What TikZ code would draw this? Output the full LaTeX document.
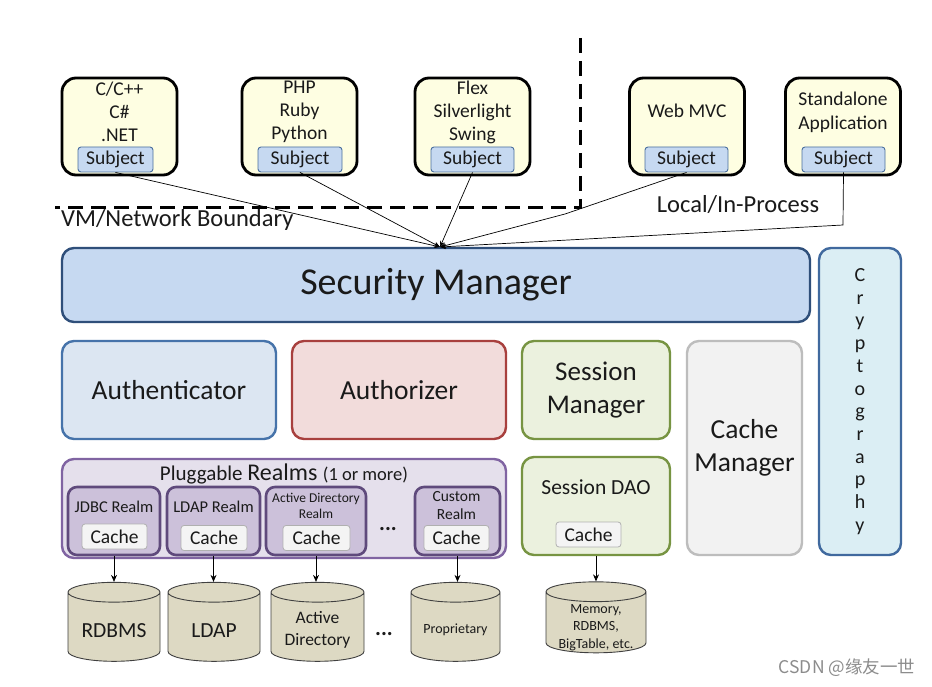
\documentclass[tikz,border=0pt]{standalone}
\usepackage{fontspec}
\setmainfont{Carlito}
\newfontfamily\cjkfont{Noto Sans CJK SC}
\usetikzlibrary{arrows.meta,shapes.geometric}
\definecolor{txt}{HTML}{1A1A1A}
\definecolor{clientfill}{HTML}{FEFEE2}
\definecolor{subjfill}{HTML}{C6D9F1}
\definecolor{subjdraw}{HTML}{4A6F9E}
\definecolor{smfill}{HTML}{C6D9F1}
\definecolor{smdraw}{HTML}{2F4F7A}
\definecolor{authfill}{HTML}{DCE6F2}
\definecolor{authdraw}{HTML}{4673AA}
\definecolor{azfill}{HTML}{F2DCDB}
\definecolor{azdraw}{HTML}{A8403E}
\definecolor{sesfill}{HTML}{EBF1DE}
\definecolor{sesdraw}{HTML}{779442}
\definecolor{cmfill}{HTML}{F2F2F2}
\definecolor{cmdraw}{HTML}{BDBDBD}
\definecolor{crfill}{HTML}{DBEEF4}
\definecolor{crdraw}{HTML}{40699E}
\definecolor{plfill}{HTML}{E5E0EC}
\definecolor{pldraw}{HTML}{8064A2}
\definecolor{rlfill}{HTML}{CCC1DA}
\definecolor{rldraw}{HTML}{5F4A7C}
\definecolor{cachefill}{HTML}{F4F4F4}
\definecolor{cachedraw}{HTML}{B0B0B0}
\definecolor{cylfill}{HTML}{DDD9C3}
\definecolor{cyldraw}{HTML}{404040}
\tikzset{
  box/.style={rounded corners=12pt, inner sep=0pt, align=center, text=txt},
  client/.style={box, draw=black, line width=2.8pt, fill=clientfill, rounded corners=14pt,
     minimum width=115pt, minimum height=97pt},
  subj/.style={draw=subjdraw, line width=0.9pt, fill=subjfill, rounded corners=3pt,
     minimum height=25pt, inner sep=0pt, text=txt, font=\fontsize{19.5}{22}\selectfont},
  ctext/.style={align=center, text=txt, inner sep=0pt, font=\fontsize{19.5}{23}\selectfont},
  comp/.style={box, line width=2.4pt},
  realm/.style={draw=rldraw, fill=rlfill, line width=2.6pt, rounded corners=9pt,
     minimum height=68pt, inner sep=0pt},
  cachebox/.style={draw=cachedraw, fill=cachefill, line width=0.8pt, rounded corners=3pt,
     minimum height=25pt, inner sep=0pt, text=txt, font=\fontsize{19.5}{22}\selectfont},
  cyl/.style={cylinder, shape border rotate=90, aspect=0.3, draw=cyldraw, line width=0.9pt,
     fill=cylfill, inner sep=0pt},
  cyltext/.style={inner sep=0pt, align=center, text=txt},
  down/.style={draw=black, line width=0.8pt, -{Stealth[length=7pt,width=6pt]}},
  conv/.style={draw=black, line width=0.7pt, -{Stealth[length=6pt,width=5pt]}},
}
\newcommand{\cylfiller}{\rule{66pt}{0pt}}
\begin{document}
\begin{tikzpicture}[x=1pt,y=-1pt]
\useasboundingbox (0,0) rectangle (932,687);
\fill[white] (0,0) rectangle (932,687);

% boundary dashed line
\coordinate (bTop) at (580,38);
\coordinate (bCorner) at (580,208);
\coordinate (bLeft) at (55,208);
\draw[black, line width=3pt, dash pattern=on 15pt off 8pt] (bTop) -- (bCorner) -- (bLeft);
\node[anchor=west, inner sep=0pt, text=txt, font=\fontsize{24.5}{28}\selectfont] (vm) at (61,220) {VM/Network Boundary};
\node[inner sep=0pt, text=txt, font=\fontsize{24.5}{28}\selectfont] (local) at (738,205) {Local/In-Process};

% clients
\node[client] (c1) at (119.5,126.5) {};
\node[ctext] (c1t) at (119.5,112) {C/C++\\C\#\\.NET};
\node[subj, minimum width=75pt] (s1) at (115.5,159.5) {Subject};
\node[client] (c2) at (299.5,126.5) {};
\node[ctext] (c2t) at (299.5,112) {PHP\\Ruby\\Python};
\node[subj, minimum width=84pt] (s2) at (300,159.5) {Subject};
\node[client] (c3) at (472.5,126.5) {};
\node[ctext] (c3t) at (472.5,112) {Flex\\Silverlight\\Swing};
\node[subj, minimum width=83pt] (s3) at (472.5,159.5) {Subject};
\node[client] (c4) at (687,126.5) {};
\node[ctext] (c4t) at (687,111) {Web MVC};
\node[subj, minimum width=83pt] (s4) at (686.5,159.5) {Subject};
\node[client] (c5) at (843,126.5) {};
\node[ctext, font=\fontsize{19.5}{24}\selectfont] (c5t) at (843,112) {Standalone\\Application};
\node[subj, minimum width=83pt] (s5) at (843.5,159.5) {Subject};

% security manager
\node[comp, draw=smdraw, fill=smfill, minimum width=748pt, minimum height=74pt,
      font=\fontsize{38}{44}\selectfont] (sm) at (436,285) {Security Manager};
\coordinate (hub) at (440,247);
\coordinate (k4) at (565,214);
\coordinate (k5) at (843,225);
\draw[conv] (s1.south) -- (hub);
\draw[conv] (s2.south) -- (hub);
\draw[conv] (s3.south) -- (hub);
\draw[conv] (s4.south) -- (k4) -- (hub);
\draw[conv] (s5.south) -- (k5) -- (hub);

% cryptography
\node[comp, draw=crdraw, fill=crfill, minimum width=82pt, minimum height=307pt,
      font=\fontsize{20}{22.7}\selectfont] (crypto) at (860,401.5) {C\\r\\y\\p\\t\\o\\g\\r\\a\\p\\h\\y};

% middle row
\node[comp, draw=authdraw, fill=authfill, minimum width=214pt, minimum height=98pt,
      font=\fontsize{27.5}{32}\selectfont] (authn) at (169,390) {Authenticator};
\node[comp, draw=azdraw, fill=azfill, minimum width=214pt, minimum height=98pt,
      font=\fontsize{27.5}{32}\selectfont] (authz) at (399,390) {Authorizer};
\node[comp, draw=sesdraw, fill=sesfill, minimum width=148pt, minimum height=98pt,
      font=\fontsize{27}{33}\selectfont] (sesm) at (596,390) {Session\\Manager};
\node[comp, draw=cmdraw, fill=cmfill, minimum width=115pt, minimum height=214pt,
      font=\fontsize{27.5}{33}\selectfont] (cachem) at (744.5,448) {Cache\\Manager};

% session DAO
\node[comp, draw=sesdraw, fill=sesfill, minimum width=148pt, minimum height=98pt] (sdao) at (596,506) {};
\node[inner sep=0pt, text=txt, font=\fontsize{21.5}{25}\selectfont] (sdaot) at (596,487) {Session DAO};
\node[cachebox, minimum width=65pt] (sdaoc) at (588.5,534.5) {Cache};

% pluggable realms
\node[comp, draw=pldraw, fill=plfill, minimum width=444pt, minimum height=99pt] (plug) at (284,508.5) {};
\node[inner sep=0pt, text=txt] (plugt) at (284,474)
  {{\fontsize{21}{24}\selectfont Pluggable }{\fontsize{24}{27}\selectfont Realms }{\fontsize{18.5}{21}\selectfont (1 or more)}};

\node[realm, minimum width=92pt] (r1) at (114,521) {};
\node[inner sep=0pt, text=txt, font=\fontsize{16.5}{19}\selectfont] (r1t) at (114,507) {JDBC Realm};
\node[cachebox, minimum width=65pt] (r1c) at (114.5,536.5) {Cache};

\node[realm, minimum width=93pt] (r2) at (213.5,521) {};
\node[inner sep=0pt, text=txt, font=\fontsize{16.5}{19}\selectfont] (r2t) at (213.5,507) {LDAP Realm};
\node[cachebox, minimum width=66pt] (r2c) at (214,538) {Cache};

\node[realm, minimum width=100pt] (r3) at (316,521) {};
\node[inner sep=0pt, align=center, text=txt, font=\fontsize{13.5}{16}\selectfont] (r3t) at (316,506) {Active Directory\\Realm};
\node[cachebox, minimum width=67pt] (r3c) at (316.5,538) {Cache};

\node[inner sep=0pt, text=txt, font=\fontsize{22}{24}\selectfont\bfseries] (rdots) at (388,529) {...};

\node[realm, minimum width=85pt] (r4) at (457.5,521) {};
\node[inner sep=0pt, align=center, text=txt, font=\fontsize{15.5}{18}\selectfont] (r4t) at (456.5,506) {Custom\\Realm};
\node[cachebox, minimum width=65pt] (r4c) at (456.5,538) {Cache};

% data stores
\node[cyl, minimum width=92pt, minimum height=79pt] (d1) at (114,627) {\cylfiller};
\node[cyltext, font=\fontsize{21.5}{25}\selectfont] (d1t) at (114,631) {RDBMS};
\node[cyl, minimum width=92pt, minimum height=79pt] (d2) at (214,627) {\cylfiller};
\node[cyltext, font=\fontsize{21.5}{25}\selectfont] (d2t) at (214,631) {LDAP};
\node[cyl, minimum width=93pt, minimum height=79pt] (d3) at (317.5,627) {\cylfiller};
\node[cyltext, font=\fontsize{17.5}{22}\selectfont] (d3t) at (317.5,630) {Active\\Directory};
\node[inner sep=0pt, text=txt, font=\fontsize{22}{24}\selectfont\bfseries] (ddots) at (384,634) {...};
\node[cyl, minimum width=89pt, minimum height=79pt] (d4) at (455.5,627) {\cylfiller};
\node[cyltext, font=\fontsize{14}{17}\selectfont] (d4t) at (455.5,630) {Proprietary};
\node[cyl, minimum width=100pt, minimum height=71pt] (d5) at (596,622.5) {\cylfiller};
\node[cyltext, font=\fontsize{14}{17.5}\selectfont] (d5t) at (596,627.5) {Memory,\\RDBMS,\\BigTable, etc.};

\draw[down] (r1.south) -- (r1.south |- d1.north);
\draw[down] (r2.south) -- (r2.south |- d2.north);
\draw[down] (r3.south) -- (r3.south |- d3.north);
\draw[down] (r4.south) -- (r4.south |- d4.north);
\draw[down] (sdao.south) -- (sdao.south |- d5.north);

% watermark
\node[inner sep=0pt, text=black!45, font=\cjkfont\fontsize{17.5}{20}\selectfont] (wm) at (847,668) {CSDN @缘友一世};
\end{tikzpicture}
\end{document}
